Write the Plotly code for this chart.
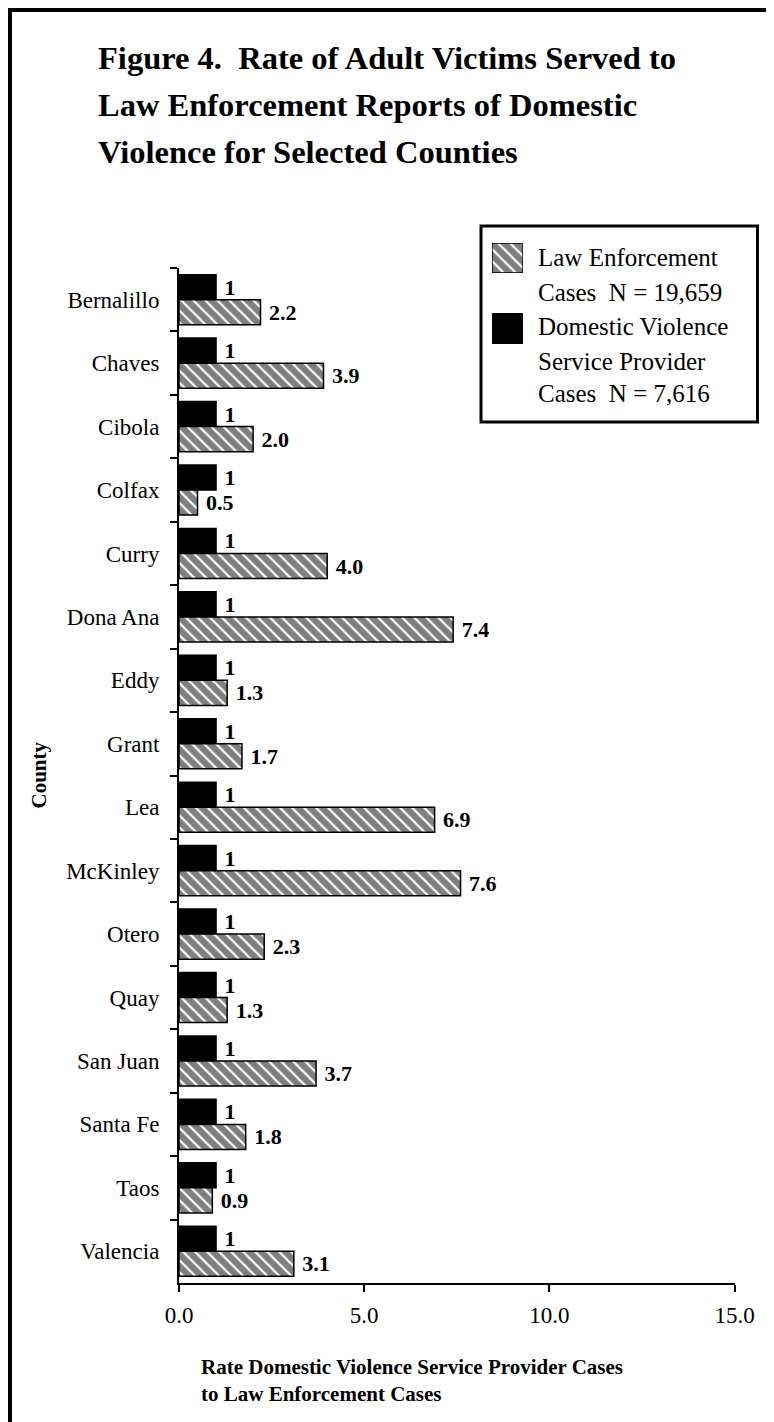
import plotly.graph_objects as go

# ---------------- data ----------------
counties = ["Bernalillo", "Chaves", "Cibola", "Colfax", "Curry", "Dona Ana", "Eddy",
            "Grant", "Lea", "McKinley", "Otero", "Quay", "San Juan", "Santa Fe",
            "Taos", "Valencia"]
dv_rate = [1, 1, 1, 1, 1, 1, 1, 1, 1, 1, 1, 1, 1, 1, 1, 1]
law_rate = [2.2, 3.9, 2.0, 0.5, 4.0, 7.4, 1.3, 1.7, 6.9, 7.6, 2.3, 1.3, 3.7, 1.8, 0.9, 3.1]
x_ticks = [0, 5, 10, 15]

title_lines = ["Figure 4.  Rate of Adult Victims Served to",
               "Law Enforcement Reports of Domestic",
               "Violence for Selected Counties"]
legend_lines = ["Law Enforcement", "Cases  N = 19,659",
                "Domestic Violence", "Service Provider", "Cases  N = 7,616"]
x_title_lines = ["Rate Domestic Violence Service Provider Cases",
                 "to Law Enforcement Cases"]
y_title = "County"

# ---------------- layout helpers ----------------
OFF = 8                      # page body margin: figure starts at (8, 8) on screen
W, H = 774 - OFF, 1422 - OFF
SERIF = "Liberation Serif, Times New Roman, serif"


def px(x):                   # screen x -> paper
    return (x - OFF) / W


def py(y):                   # screen y -> paper
    return 1 - (y - OFF) / H


PL, PR, PT, PB = 179, 734.7, 268, 1283   # plot area on screen

hatch = dict(color="white",
             pattern=dict(shape="\\", fgcolor="black", bgcolor="white", size=8.5, solidity=0.75),
             line=dict(color="black", width=1.5))
solid = dict(color="black", line=dict(color="black", width=1.5))
label_font = dict(family=SERIF, size=22, color="black", weight="bold")

fig = go.Figure()
fig.add_trace(go.Bar(
    y=counties, x=dv_rate, orientation="h", marker=solid,
    texttemplate="\u00a0%{x:.0f}", textposition="outside", constraintext="none",
    textfont=label_font, cliponaxis=False, showlegend=False, hoverinfo="skip"))
fig.add_trace(go.Bar(
    y=counties, x=law_rate, orientation="h", marker=hatch,
    texttemplate="\u00a0%{x:.1f}", textposition="outside", constraintext="none",
    textfont=label_font, cliponaxis=False, showlegend=False, hoverinfo="skip"))

# legend swatches (own tiny axes)
fig.add_trace(go.Bar(x=[0], y=[1], width=1, xaxis="x2", yaxis="y2", marker=hatch,
                     showlegend=False, hoverinfo="skip"))
fig.add_trace(go.Bar(x=[0], y=[1], width=1, xaxis="x3", yaxis="y3", marker=solid,
                     showlegend=False, hoverinfo="skip"))

annotations = []
for i, t in enumerate(title_lines):
    annotations.append(dict(text=t, x=px(96), y=py(58 + 47 * i), xref="paper", yref="paper",
                            xanchor="left", yanchor="middle", showarrow=False,
                            font=dict(family=SERIF, size=32.5, color="black", weight="bold")))
for t, yy in zip(legend_lines, [257, 292, 327, 361, 393]):
    annotations.append(dict(text=t, x=px(536), y=py(yy), xref="paper", yref="paper",
                            xanchor="left", yanchor="middle", showarrow=False,
                            font=dict(family=SERIF, size=25, color="black")))
for i, t in enumerate(x_title_lines):
    annotations.append(dict(text=t, x=px(199), y=py(1367 + 27 * i), xref="paper", yref="paper",
                            xanchor="left", yanchor="middle", showarrow=False,
                            font=dict(family=SERIF, size=21, color="black", weight="bold")))
annotations.append(dict(text=y_title, x=px(38), y=py((PT + PB) / 2), xref="paper", yref="paper",
                        xanchor="center", yanchor="middle", showarrow=False, textangle=-90,
                        font=dict(family=SERIF, size=21, color="black", weight="bold")))

shapes = [
    dict(type="rect", xref="paper", yref="paper", x0=px(10), x1=px(770), y0=py(10), y1=py(1460),
         line=dict(color="black", width=4), fillcolor="rgba(0,0,0,0)", layer="above"),
    dict(type="rect", xref="paper", yref="paper", x0=px(481), x1=px(757.5), y0=py(226), y1=py(422),
         line=dict(color="black", width=3), fillcolor="rgba(0,0,0,0)"),
]

fig.update_layout(
    width=W, height=H, autosize=False,
    margin=dict(l=0, r=0, t=0, b=0),
    paper_bgcolor="white", plot_bgcolor="white",
    barmode="group", bargap=0.21, bargroupgap=0,
    showlegend=False,
    font=dict(family=SERIF, color="black"),
    xaxis=dict(domain=[px(PL), px(PR)], range=[0, 15], tickvals=x_ticks, tickformat=".1f",
               ticks="outside", ticklen=7, tickwidth=1.5, tickcolor="black",
               showline=True, linewidth=2, linecolor="black", showgrid=False, zeroline=False,
               tickfont=dict(family=SERIF, size=23, color="black"), ticklabelstandoff=3,
               anchor="y", automargin=False, fixedrange=True),
    yaxis=dict(domain=[py(PB), py(PT)], type="category", autorange="reversed",
               tickson="boundaries", ticks="outside", ticklen=7, tickwidth=1.5, tickcolor="black",
               showline=True, linewidth=2, linecolor="black", showgrid=False, zeroline=False,
               tickfont=dict(family=SERIF, size=23, color="black"), ticklabelstandoff=13,
               anchor="x", automargin=False, fixedrange=True),
    xaxis2=dict(domain=[px(492), px(523)], range=[-0.5, 0.5], visible=False, anchor="y2", fixedrange=True),
    yaxis2=dict(domain=[py(273), py(243)], range=[0, 1], visible=False, anchor="x2", fixedrange=True),
    xaxis3=dict(domain=[px(492), px(523)], range=[-0.5, 0.5], visible=False, anchor="y3", fixedrange=True),
    yaxis3=dict(domain=[py(344), py(313)], range=[0, 1], visible=False, anchor="x3", fixedrange=True),
    annotations=annotations,
    shapes=shapes,
)

fig.write_html("out.html")
